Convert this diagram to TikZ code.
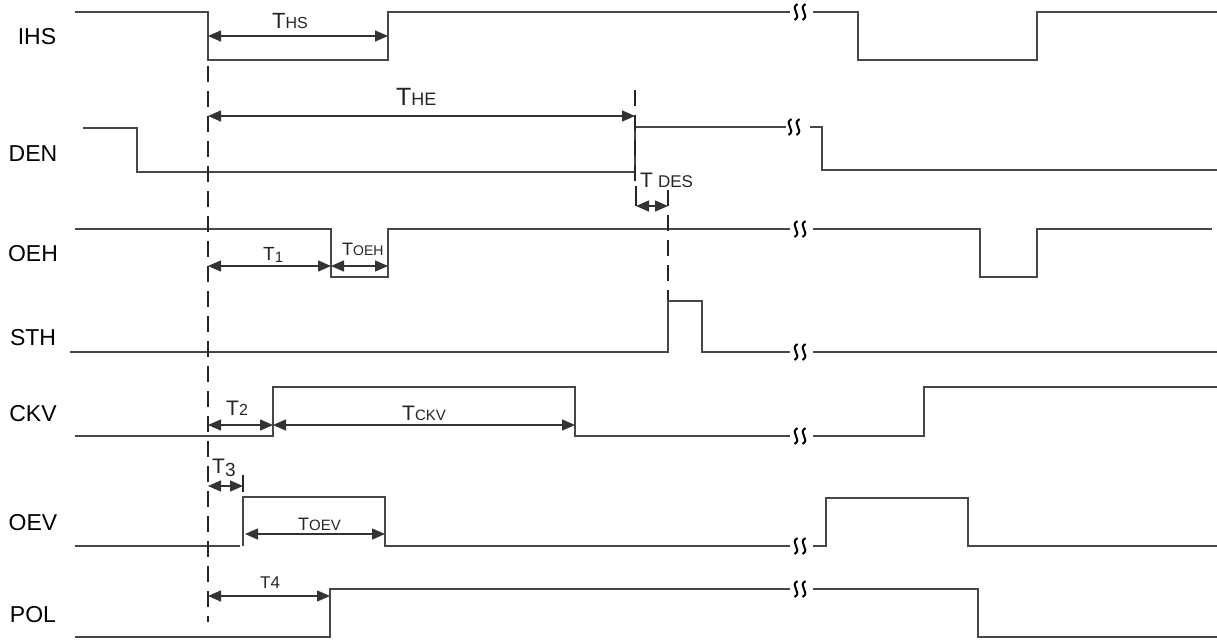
\documentclass[tikz,border=0pt]{standalone}
\usepackage{fontspec}
\setmainfont{Liberation Sans}
\usetikzlibrary{arrows.meta}
\newcommand{\fs}[1]{\fontsize{#1}{#1}\selectfont}
\tikzset{
  sig/.style={line width=1.5pt, draw=black!72, line join=miter},
  dim/.style={line width=1.4pt, draw=black!80, {Triangle[length=13pt,width=11pt]}-{Triangle[length=13pt,width=11pt]}},
  tick/.style={line width=1.5pt, draw=black!85},
  guide/.style={line width=1.5pt, draw=black!85, dash pattern=on 16pt off 9pt},
  brk/.style={line width=2pt, draw=black},
  siglab/.style={inner sep=0pt, anchor=center, font=\fs{23}},
  tlab/.style={inner sep=0pt, anchor=base west, text=black!85}
}
\begin{document}
\begin{tikzpicture}[x=1pt,y=-1pt]
\useasboundingbox (0,0) rectangle (1217,641);
\fill[white] (0,0) rectangle (1217,641);

% signal labels
\node[siglab] (lIHS) at (37,37) {IHS};
\node[siglab] (lDEN) at (33,154) {DEN};
\node[siglab] (lOEH) at (33,254) {OEH};
\node[siglab] (lSTH) at (33,338) {STH};
\node[siglab] (lCKV) at (33,414) {CKV};
\node[siglab] (lOEV) at (33,523) {OEV};
\node[siglab] (lPOL) at (33,615) {POL};

% waveforms
\draw[sig] (75,12)--(208,12)--(208,60)--(388,60)--(388,12)--(790,12);
\draw[sig] (813,12)--(858,12)--(858,60)--(1037,60)--(1037,12)--(1217,12);
\draw[sig] (83,128)--(137,128)--(137,172)--(635,172)--(635,127)--(786,127);
\draw[sig] (810,127)--(822,127)--(822,170)--(1217,170);
\draw[sig] (75,229)--(331,229)--(331,277)--(388,277)--(388,229)--(790,229);
\draw[sig] (813,229)--(980,229)--(980,277)--(1037,277)--(1037,229)--(1212,229);
\draw[sig] (70,352)--(668,352)--(668,301)--(702,301)--(702,352)--(790,352);
\draw[sig] (813,352)--(1217,352);
\draw[sig] (75,436)--(273,436)--(273,387)--(575,387)--(575,436)--(790,436);
\draw[sig] (813,436)--(924,436)--(924,387)--(1217,387);
\draw[sig] (75,546)--(240,546);
\draw[sig] (243,546)--(243,497)--(385,497)--(385,546)--(790,546);
\draw[sig] (813,546)--(826,546)--(826,498)--(968,498)--(968,546)--(1217,546);
\draw[sig] (75,637)--(330,637)--(330,589)--(790,589);
\draw[sig] (813,589)--(978,589)--(978,637)--(1217,637);

% break marks
\foreach \bx/\by in {800/12, 794/127, 800/229, 800/352, 800/436, 800/546, 800/589}{
  \foreach \dx in {-4,4}{
    \draw[brk] (\bx+\dx+1.5,\by-8) .. controls (\bx+\dx-7,\by-3) and (\bx+\dx+7,\by+3) .. (\bx+\dx-1.5,\by+8);
  }
}

% guide lines
\draw[guide] (208,66)--(208,622);
\draw[guide] (635,90)--(635,190);
\draw[guide] (668,190)--(668,300);

% dimension anchors
\coordinate (a0) at (208,36);   \coordinate (a1) at (388,36);
\coordinate (b0) at (208,116);  \coordinate (b1) at (635,116);
\coordinate (c0) at (636,206);  \coordinate (c1) at (668,206);
\coordinate (ct) at (636,186);
\coordinate (d0) at (208,266);  \coordinate (d1) at (331,266);  \coordinate (d2) at (388,266);
\coordinate (e0) at (208,425);  \coordinate (e1) at (273,425);  \coordinate (e2) at (575,425);
\coordinate (f0) at (208,486);  \coordinate (f1) at (243,486);
\coordinate (ft0) at (243,475); \coordinate (ft1) at (243,492);
\coordinate (g0) at (245,534);  \coordinate (g1) at (385,534);
\coordinate (h0) at (208,596);  \coordinate (h1) at (330,596);

\draw[dim] (a0)--(a1);
\draw[dim] (b0)--(b1);
\draw[tick] (ct)--(c0);
\draw[dim] (c0)--(c1);
\draw[dim] (d0)--(d1);
\draw[dim] (d1)--(d2);
\draw[dim] (e0)--(e1);
\draw[dim] (e1)--(e2);
\draw[tick] (ft0)--(ft1);
\draw[dim] (f0)--(f1);
\draw[dim] (g0)--(g1);
\draw[dim] (h0)--(h1);

% timing labels
\node[tlab] (tHS) at (272,28) {\fs{22}T\fs{16}HS};
\node[tlab] (tHE) at (396,105) {\fs{25}T\fs{18}HE};
\node[tlab] (tDES) at (640,187) {\fs{21}T\hspace{5pt}\fs{17}DES};
\node[tlab] (t1) at (263,260) {\fs{19}T\raisebox{-2pt}{\fs{15}1}};
\node[tlab] (tOEH) at (342,255) {\fs{18}T\fs{14}OEH};
\node[tlab] (t2) at (226,415) {\fs{21}T\fs{16}2};
\node[tlab] (tCKV) at (402,420) {\fs{21}T\fs{15}CKV};
\node[tlab] (t3) at (212,473) {\fs{21}T\raisebox{-3pt}{\fs{19}3}};
\node[tlab] (tOEV) at (298,530) {\fs{18}T\fs{15}OEV};
\node[tlab] (t4) at (260,588) {\fs{17}T\fs{17}4};
\end{tikzpicture}
\end{document}
